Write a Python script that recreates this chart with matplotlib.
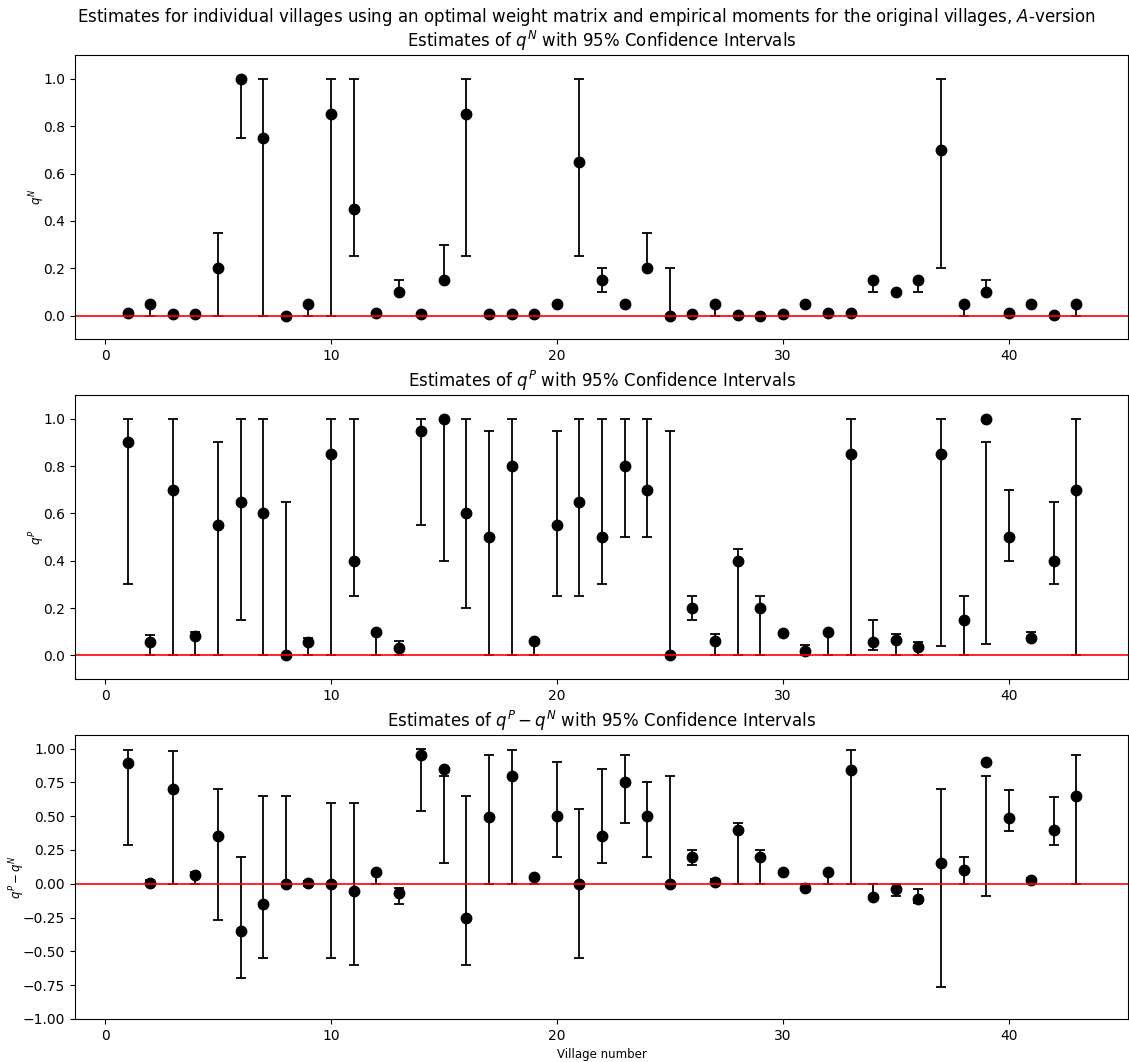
import numpy as np
import matplotlib
matplotlib.use("Agg")
import matplotlib.pyplot as plt

villages = list(range(1, 44))

# q^N estimates and 95% CI bounds
qN = [0.01, 0.05, 0.005, 0.008, 0.20, 1.00, 0.75, 0.00, 0.05, 0.85,
      0.45, 0.01, 0.10, 0.005, 0.15, 0.85, 0.005, 0.005, 0.007, 0.05,
      0.65, 0.15, 0.05, 0.20, 0.00, 0.007, 0.05, 0.003, 0.00, 0.008,
      0.05, 0.01, 0.01, 0.15, 0.10, 0.15, 0.70, 0.05, 0.10, 0.01,
      0.05, 0.003, 0.05]
qN_lo = [0.005, 0.00, 0.003, 0.005, 0.00, 0.75, 0.00, 0.00, 0.00, 0.00,
         0.25, 0.008, 0.10, 0.003, 0.15, 0.25, 0.003, 0.003, 0.005, 0.05,
         0.25, 0.10, 0.05, 0.20, 0.00, 0.005, 0.00, 0.002, 0.00, 0.006,
         0.05, 0.008, 0.008, 0.10, 0.10, 0.10, 0.20, 0.00, 0.10, 0.008,
         0.05, 0.002, 0.00]
qN_hi = [0.01, 0.05, 0.005, 0.008, 0.35, 1.00, 1.00, 0.00, 0.05, 1.00,
         1.00, 0.01, 0.15, 0.005, 0.30, 1.00, 0.005, 0.005, 0.007, 0.05,
         1.00, 0.20, 0.05, 0.35, 0.20, 0.007, 0.05, 0.003, 0.00, 0.008,
         0.05, 0.01, 0.01, 0.15, 0.10, 0.15, 1.00, 0.05, 0.15, 0.01,
         0.05, 0.003, 0.05]

# q^P estimates and 95% CI bounds
qP = [0.90, 0.055, 0.70, 0.08, 0.55, 0.65, 0.60, 0.00, 0.055, 0.85,
      0.40, 0.10, 0.03, 0.95, 1.00, 0.60, 0.50, 0.80, 0.06, 0.55,
      0.65, 0.50, 0.80, 0.70, 0.00, 0.20, 0.06, 0.40, 0.20, 0.095,
      0.02, 0.10, 0.85, 0.055, 0.065, 0.035, 0.85, 0.15, 1.00, 0.50,
      0.075, 0.40, 0.70]
qP_lo = [0.30, 0.00, 0.00, 0.00, 0.00, 0.15, 0.00, 0.00, 0.00, 0.00,
         0.25, 0.00, 0.00, 0.55, 0.40, 0.20, 0.00, 0.00, 0.00, 0.25,
         0.25, 0.30, 0.50, 0.50, 0.00, 0.15, 0.00, 0.00, 0.00, 0.088,
         0.00, 0.00, 0.00, 0.025, 0.00, 0.00, 0.04, 0.00, 0.05, 0.40,
         0.07, 0.30, 0.00]
qP_hi = [1.00, 0.085, 1.00, 0.10, 0.90, 1.00, 1.00, 0.65, 0.075, 1.00,
         1.00, 0.10, 0.06, 1.00, 1.00, 1.00, 0.95, 1.00, 0.06, 0.95,
         1.00, 1.00, 1.00, 1.00, 0.95, 0.25, 0.09, 0.45, 0.25, 0.10,
         0.045, 0.10, 1.00, 0.15, 0.09, 0.055, 1.00, 0.25, 0.90, 0.70,
         0.10, 0.65, 1.00]

# q^P - q^N estimates and 95% CI bounds
diff = [0.89, 0.007, 0.70, 0.068, 0.35, -0.35, -0.15, 0.00, 0.005, 0.00,
        -0.05, 0.09, -0.07, 0.95, 0.85, -0.25, 0.495, 0.80, 0.052, 0.50,
        0.00, 0.35, 0.75, 0.50, 0.00, 0.195, 0.01, 0.40, 0.20, 0.085,
        -0.03, 0.09, 0.84, -0.095, -0.035, -0.115, 0.15, 0.10, 0.90, 0.49,
        0.025, 0.40, 0.65]
diff_lo = [0.29, -0.005, 0.00, 0.00, -0.27, -0.70, -0.55, 0.00, -0.02, -0.55,
           -0.60, 0.00, -0.15, 0.54, 0.15, -0.60, 0.00, 0.00, 0.00, 0.20,
           -0.55, 0.15, 0.45, 0.20, 0.00, 0.14, 0.00, 0.00, 0.00, 0.08,
           -0.03, 0.00, 0.00, -0.10, -0.09, -0.145, -0.76, 0.00, -0.09, 0.39,
           0.015, 0.29, 0.00]
diff_hi = [0.99, 0.03, 0.985, 0.09, 0.70, 0.20, 0.65, 0.65, 0.02, 0.60,
           0.60, 0.09, -0.03, 0.995, 0.80, 0.65, 0.95, 0.99, 0.05, 0.90,
           0.55, 0.85, 0.95, 0.75, 0.80, 0.25, 0.035, 0.45, 0.25, 0.09,
           0.00, 0.09, 0.99, 0.00, 0.00, -0.04, 0.70, 0.20, 0.80, 0.69,
           0.045, 0.645, 0.95]

panels = [
    (qN, qN_lo, qN_hi, r"Estimates of $q^N$ with 95% Confidence Intervals", r"$q^N$", (-0.1, 1.1)),
    (qP, qP_lo, qP_hi, r"Estimates of $q^P$ with 95% Confidence Intervals", r"$q^P$", (-0.1, 1.1)),
    (diff, diff_lo, diff_hi, r"Estimates of $q^P - q^N$ with 95% Confidence Intervals", r"$q^P - q^N$", (-1.0, 1.1)),
]

label_size = 8.5
tick_size = 10

fig, axes = plt.subplots(3, 1, figsize=(11.29, 10.62), dpi=100)
fig.subplots_adjust(left=0.0664, right=0.9995, top=0.948, bottom=0.0405, hspace=0.197)

x = np.array(villages)
for ax, (vals, lo, hi, title, ylab, ylim) in zip(axes, panels):
    lo = np.array(lo)
    hi = np.array(hi)
    ax.errorbar(x, lo, yerr=[np.zeros_like(lo), hi - lo], fmt='none',
                ecolor='black', elinewidth=1.3, capsize=3.5, capthick=1.3)
    ax.plot(x, vals, 'o', color='black', markersize=7.5)
    ax.axhline(0, color='red', linewidth=1.2)
    ax.set_title(title, fontsize=12)
    ax.set_ylabel(ylab, fontsize=label_size, labelpad=-3)
    ax.set_ylim(*ylim)
    ax.set_xlim(-1.33, 45.3)
    ax.tick_params(labelsize=tick_size)

axes[0].set_yticks([0.0, 0.2, 0.4, 0.6, 0.8, 1.0])
axes[1].set_yticks([0.0, 0.2, 0.4, 0.6, 0.8, 1.0])
axes[2].set_yticks(np.arange(-1.0, 1.01, 0.25))
axes[2].set_xlabel("Village number", fontsize=label_size)

fig.suptitle("Estimates for individual villages using an optimal weight matrix and empirical moments for the original villages, $A$-version",
             fontsize=12.0, x=0.519, y=0.994)

fig.savefig("out.png", dpi=100)
